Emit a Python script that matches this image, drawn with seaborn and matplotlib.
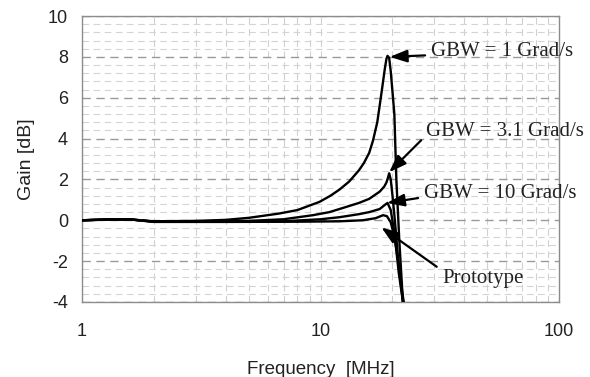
import numpy as np
import pandas as pd
import matplotlib
matplotlib.use("Agg")
import matplotlib.pyplot as plt
from matplotlib.ticker import MultipleLocator, LogLocator, FixedLocator, NullFormatter
import seaborn as sns

# ---- data ----
freq_gbw1 = [1, 1.3, 1.6, 2, 3, 4, 5, 5.6, 6.7, 8, 9.9, 11, 12, 13.2, 14.5, 15.2, 16, 16.6, 17.3, 17.7, 18.2, 18.6, 18.9, 19.1, 19.4, 19.7, 20.0, 20.4, 20.8, 21.4, 22.3]
gain_gbw1 = [0, 0.04, 0.04, -0.05, -0.03, 0.02, 0.12, 0.2, 0.33, 0.5, 0.9, 1.2, 1.5, 1.9, 2.45, 2.8, 3.3, 3.9, 4.8, 5.6, 6.6, 7.4, 7.9, 8.05, 7.95, 7.3, 6.4, 5.2, 2.0, -1.0, -4.5]

freq_gbw31 = [1, 1.3, 1.6, 2, 3, 5, 7, 9.3, 10.9, 12, 14.5, 16, 17.7, 18.5, 18.9, 19.2, 19.4, 19.7, 20.0, 20.5, 21.2, 22.4]
gain_gbw31 = [0, 0.04, 0.04, -0.06, -0.06, -0.03, 0.05, 0.25, 0.4, 0.55, 0.85, 1.05, 1.4, 1.65, 1.85, 2.1, 2.3, 2.0, 1.3, 0.0, -2.0, -4.5]

freq_gbw10 = [1, 1.3, 1.6, 2, 4, 7, 10, 12, 14.5, 16, 17.7, 18.6, 19.1, 19.7, 20.4, 21.3, 22.5]
gain_gbw10 = [0, 0.04, 0.04, -0.07, -0.07, -0.05, 0.05, 0.15, 0.3, 0.4, 0.55, 0.75, 0.85, 0.5, -0.6, -2.6, -4.5]

freq_proto = [1, 1.3, 1.6, 2, 4, 8, 12, 15, 17, 18.3, 19.0, 19.7, 20.4, 21.2, 22.0, 22.7]
gain_proto = [0, 0.04, 0.04, -0.08, -0.08, -0.07, -0.05, 0.0, 0.1, 0.25, 0.2, -0.1, -0.8, -2.0, -3.5, -4.5]

series_names = ["GBW = 1 Grad/s", "GBW = 3.1 Grad/s", "GBW = 10 Grad/s", "Prototype"]
series_freq = [freq_gbw1, freq_gbw31, freq_gbw10, freq_proto]
series_gain = [gain_gbw1, gain_gbw31, gain_gbw10, gain_proto]

x_ticks = [1, 10, 100]
x_tick_labels = ["1", "10", "100"]
y_ticks = [-4, -2, 0, 2, 4, 6, 8, 10]

# annotation targets (data coords) and text anchors (data coords)
ann_tips = [(19.5, 8.0), (19.4, 2.35), (19.0, 0.85), (18.0, -0.35)]
ann_text = [(29.1, 8.27), (27.8, 4.36), (27.2, 1.32), (32.4, -2.84)]

frames = []
for name, f, g in zip(series_names, series_freq, series_gain):
    frames.append(pd.DataFrame({"Frequency": f, "Gain": g, "Series": name}))
df = pd.concat(frames, ignore_index=True)

sns.set_theme(style="white")
plt.rcParams["font.family"] = ["Liberation Sans", "DejaVu Sans"]
plt.rcParams["axes.unicode_minus"] = False

fig = plt.figure(figsize=(5.9, 3.77), dpi=100)
ax = fig.add_axes([82 / 590, 75 / 377, (559 - 82) / 590, (302 - 16) / 377])

for name in series_names:
    sub = df[df["Series"] == name]
    sns.lineplot(data=sub, x="Frequency", y="Gain", ax=ax, color="black",
                 lw=1.7, estimator=None, sort=False, legend=False, zorder=3)

ax.set_xscale("log")
ax.set_xlim(1, 100)
ax.set_ylim(-4, 10)
ax.xaxis.set_major_locator(FixedLocator(x_ticks))
ax.set_xticklabels(x_tick_labels)
ax.xaxis.set_minor_locator(LogLocator(base=10, subs=np.arange(2, 10)))
ax.xaxis.set_minor_formatter(NullFormatter())
ax.yaxis.set_major_locator(FixedLocator(y_ticks))
ax.yaxis.set_minor_locator(MultipleLocator(0.4))

ax.grid(which="major", axis="y", linestyle=(0, (6, 4)), color="#9a9a9a", lw=1.0)
ax.grid(which="minor", axis="y", linestyle=(0, (6, 4)), color="#d4d4d4", lw=0.8)
ax.grid(which="both", axis="x", linestyle=(0, (6, 4)), color="#d0d0d0", lw=0.8)

for sp in ax.spines.values():
    sp.set_color("#8c8c8c")
    sp.set_linewidth(1.0)

ax.tick_params(axis="both", which="both", length=0)
ax.tick_params(axis="x", pad=15, labelsize=13, colors="#222222")
ax.tick_params(axis="y", pad=10, labelsize=13, colors="#222222")

ax.set_xlabel("Frequency  [MHz]", fontsize=13.5, color="#222222", labelpad=15)
ax.set_ylabel("Gain [dB]", fontsize=14, color="#222222", labelpad=9)

for name, tip, txt in zip(series_names, ann_tips, ann_text):
    relpos = (0.0, 0.3) if name != "Prototype" else (0.0, 0.9)
    ax.annotate(name, xy=tip, xytext=txt, textcoords="data",
                ha="left", va="center", fontsize=15,
                family=["Liberation Serif", "DejaVu Serif"], color="#222222",
                arrowprops=dict(arrowstyle="-|>,head_length=0.7,head_width=0.25",
                                color="black", lw=1.6, shrinkA=2, shrinkB=0,
                                relpos=relpos),
                annotation_clip=False, zorder=5)

fig.savefig("out.png", dpi=100)
